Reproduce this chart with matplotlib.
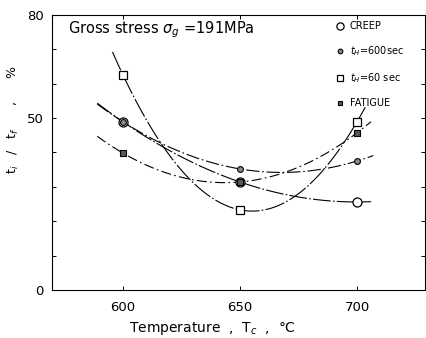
import numpy as np
import matplotlib.pyplot as plt

# Temperature (deg C) and life ratio ti/tf (%) for each test condition
temps = [600, 650, 700]
creep = [48.9, 31.4, 25.6]
hold600 = [48.9, 35.2, 37.5]
hold60 = [62.5, 23.3, 48.9]
fatigue = [39.8, 31.4, 45.7]

# span of each fitted curve
span_creep = (589, 706)
span_hold600 = (589, 707)
span_hold60 = (595.5, 703.5)
span_fatigue = (589, 706)

plt.rcParams['font.family'] = 'DejaVu Sans'

fig = plt.figure(figsize=(4.27, 3.38), dpi=100)
ax = fig.add_axes([0.122, 0.142, 0.873, 0.814])

def fit_curve(y, span, ls):
	''' Quadratic fit through the three points, drawn over the given span '''
	c = np.polyfit(temps, y, 2)
	xs = np.linspace(span[0], span[1], 200)
	ax.plot(xs, np.polyval(c, xs), color='k', lw=0.8, ls=ls)

fit_curve(creep, span_creep, (0, (16, 2, 1.5, 2)))
fit_curve(hold600, span_hold600, (0, (12, 2.5, 1.5, 2.5)))
fit_curve(hold60, span_hold60, (0, (18, 2, 1.5, 2)))
fit_curve(fatigue, span_fatigue, (0, (9, 3, 1.5, 3)))

ax.plot(temps, creep, 'o', ms=6.5, mfc='white', mec='k', mew=0.9, ls='none', label='CREEP')
ax.plot(temps, hold600, 'o', ms=4.2, mfc='0.55', mec='k', mew=0.8, ls='none', label='$t_H$=600sec')
ax.plot(temps, hold60, 's', ms=5.5, mfc='white', mec='k', mew=0.9, ls='none', label='$t_H$=60 sec')
ax.plot(temps, fatigue, 's', ms=4.2, mfc='0.35', mec='k', mew=0.8, ls='none', label='FATIGUE')

leg = ax.legend(loc='upper left', bbox_to_anchor=(0.745, 1.0), frameon=False,
	fontsize=7, handlelength=0.8, handletextpad=0.6, labelspacing=1.35, borderaxespad=0.25,
	markerscale=0.8)

ax.text(0.042, 0.945, r'Gross stress $\sigma_g$ =191MPa', transform=ax.transAxes,
	fontsize=10.5, va='center', ha='left')

ax.set_xlim(569.7, 729)
ax.set_ylim(0, 80)
ax.set_xticks([600, 650, 700])
ax.set_yticks(np.arange(0, 81, 10))
ax.set_yticklabels(['0', '', '', '', '', '50', '', '', '80'])
ax.tick_params(direction='in', length=3, width=0.7, labelsize=9.5, top=True, right=True)
ax.tick_params(axis='x', pad=8)
ax.tick_params(axis='y', pad=6)
for s in ax.spines.values():
	s.set_linewidth(0.8)

ax.set_xlabel('Temperature  ,  T$_c$  ,  °C', fontsize=10)
ax.xaxis.set_label_coords(0.43, -0.108)
ax.set_ylabel('t$_i$   /   t$_f$      ,      %', fontsize=9)
ax.yaxis.set_label_coords(-0.083, 0.62)

fig.savefig('out.png', dpi=100)
